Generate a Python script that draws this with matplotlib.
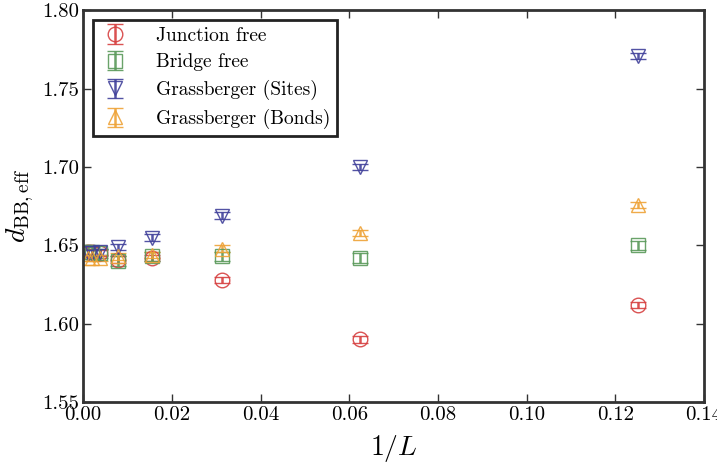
import matplotlib
matplotlib.use("Agg")
import matplotlib.pyplot as plt

plt.rcParams['font.family'] = 'serif'
plt.rcParams['font.serif'] = ['cmr10']
plt.rcParams['mathtext.fontset'] = 'cm'
plt.rcParams['axes.formatter.use_mathtext'] = True
plt.rcParams['axes.unicode_minus'] = False

# 1/L values for L = 8 ... 1024
inv_L = [0.125, 0.0625, 0.03125, 0.015625, 0.0078125, 0.00390625, 0.001953125, 0.0009765625]

junction = [1.612, 1.590, 1.628, 1.642, 1.641, 1.645, 1.646, 1.646]
junction_err = [0.002, 0.002, 0.002, 0.002, 0.002, 0.002, 0.002, 0.002]
bridge = [1.650, 1.642, 1.643, 1.643, 1.640, 1.645, 1.646, 1.646]
bridge_err = [0.003, 0.003, 0.003, 0.003, 0.003, 0.003, 0.003, 0.003]
sites = [1.771, 1.700, 1.669, 1.655, 1.649, 1.646, 1.645, 1.645]
sites_err = [0.002, 0.002, 0.002, 0.002, 0.002, 0.002, 0.002, 0.002]
bonds = [1.676, 1.658, 1.648, 1.644, 1.643, 1.642, 1.642, 1.642]
bonds_err = [0.002, 0.002, 0.002, 0.002, 0.002, 0.002, 0.002, 0.002]

series = [
    ("Junction free", junction, junction_err, "o", "#d63f3f"),
    ("Bridge free", bridge, bridge_err, "s", "#5a995a"),
    ("Grassberger (Sites)", sites, sites_err, "v", "#40409a"),
    ("Grassberger (Bonds)", bonds, bonds_err, "^", "#eea236"),
]

fig = plt.figure(figsize=(7.17, 4.66), dpi=100)
ax = fig.add_axes([0.116, 0.137, 0.866, 0.841])

for label, y, yerr, m, c in series:
    ax.errorbar(inv_L, y, yerr=yerr, fmt=m, mfc='none', mec=c, ecolor=c,
                mew=1.0, ms=10.5, capsize=5.5, capthick=1.0, elinewidth=1.8,
                alpha=0.9, label=label)

ax.set_xlim(0, 0.14)
ax.set_ylim(1.55, 1.80)
ax.set_xticks([0.00, 0.02, 0.04, 0.06, 0.08, 0.10, 0.12, 0.14])
ax.set_xticklabels(["0.00", "0.02", "0.04", "0.06", "0.08", "0.10", "0.12", "0.14"])
ax.set_yticks([1.55, 1.60, 1.65, 1.70, 1.75, 1.80])
ax.set_yticklabels(["1.55", "1.60", "1.65", "1.70", "1.75", "1.80"])
ax.tick_params(direction='in', top=True, right=True, length=6, width=1,
               labelsize=15, color='#333333', pad=3)
for s in ax.spines.values():
    s.set_linewidth(2)
    s.set_color('#333333')

ax.set_xlabel(r"$1/L$", fontsize=20, labelpad=6)
ax.set_ylabel(r"$d_{\mathrm{BB,eff}}$", fontsize=20, labelpad=4)

leg = ax.legend(loc='upper left', fontsize=14, numpoints=1, fancybox=False,
                borderpad=0.35, handlelength=1.6, handletextpad=1.3,
                labelspacing=0.45, borderaxespad=0.5)
leg.get_frame().set_edgecolor('#222222')
leg.get_frame().set_linewidth(2)
leg.get_frame().set_alpha(1)

fig.savefig("out.png", dpi=100)
